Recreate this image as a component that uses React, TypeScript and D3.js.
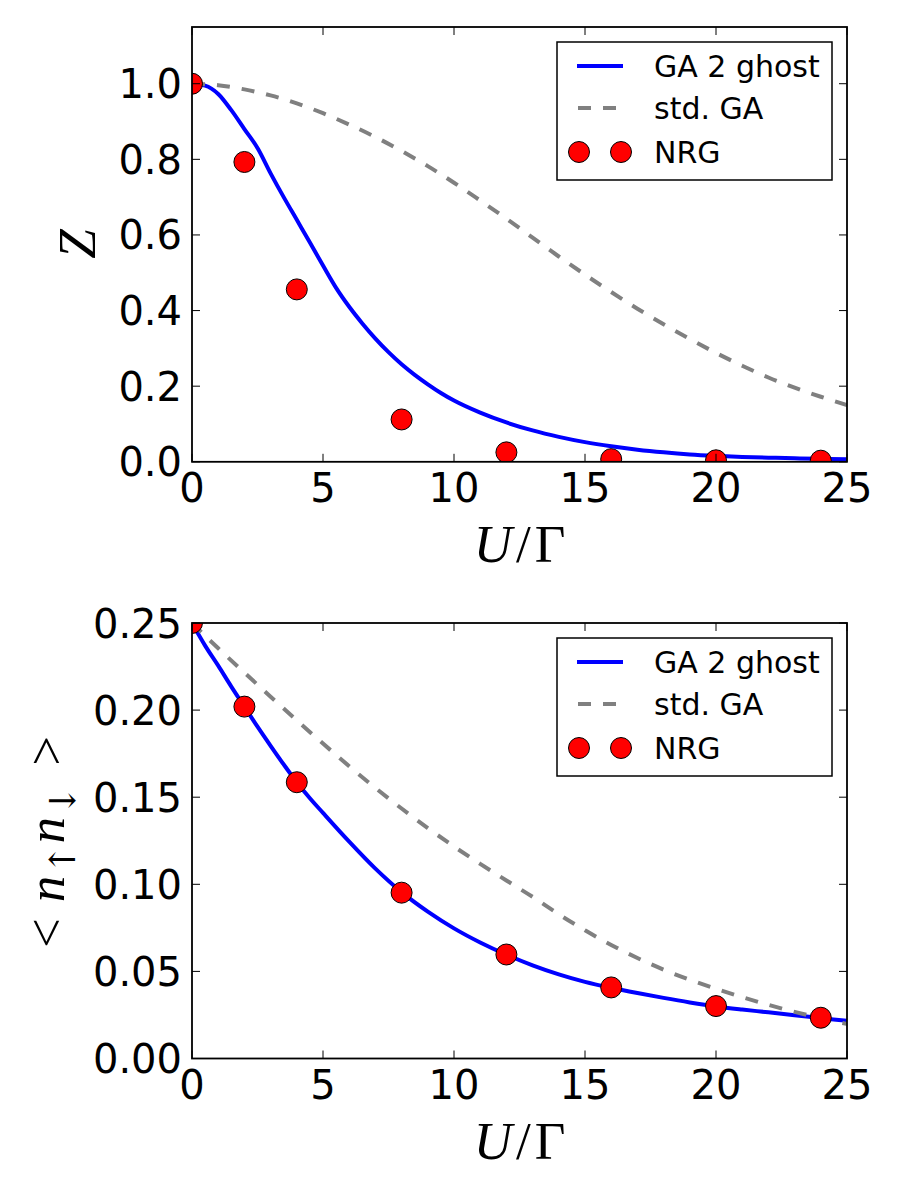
import React from 'react';
import * as d3 from 'd3';

// ---------- DATA ----------
const xTicks = [0, 5, 10, 15, 20, 25];
const zTicks = [0, 0.2, 0.4, 0.6, 0.8, 1.0];
const zTickLabels = ['0.0', '0.2', '0.4', '0.6', '0.8', '1.0'];
const dTicks = [0, 0.05, 0.1, 0.15, 0.2, 0.25];
const dTickLabels = ['0.00', '0.05', '0.10', '0.15', '0.20', '0.25'];

const legendLabels = ['GA 2 ghost', 'std. GA', 'NRG'];

// Top panel: Z
const zGa2U = [0, 0.5, 1, 1.5, 2, 2.5, 3, 3.5, 4, 4.5, 5, 5.5, 6, 6.5, 7, 7.5, 8, 8.5, 9, 9.5, 10, 11, 12, 13, 14, 15, 16, 17, 18, 19, 20, 21, 22, 23, 24, 25];
const zGa2 = [1.0, 0.995, 0.973, 0.93, 0.88, 0.83, 0.763, 0.7, 0.64, 0.58, 0.519, 0.46, 0.41, 0.366, 0.326, 0.29, 0.258, 0.23, 0.205, 0.182, 0.162, 0.13, 0.104, 0.083, 0.066, 0.052, 0.041, 0.032, 0.025, 0.0195, 0.0158, 0.013, 0.011, 0.0093, 0.008, 0.007];
const zGaU = [0, 1, 2, 3, 4, 5, 6, 7, 8, 9, 10, 11, 12, 13, 14, 15, 16, 17, 18, 19, 20, 21, 22, 23, 24, 25];
const zGa = [1.0, 0.996, 0.985, 0.969, 0.948, 0.922, 0.892, 0.859, 0.822, 0.782, 0.738, 0.691, 0.643, 0.593, 0.543, 0.495, 0.449, 0.405, 0.364, 0.325, 0.288, 0.254, 0.223, 0.196, 0.172, 0.15];

// NRG points
const nrgU = [0, 2, 4, 8, 12, 16, 20, 24];
const nrgZ = [1.0, 0.793, 0.456, 0.112, 0.025, 0.007, 0.004, 0.003];
const nrgD = [0.25, 0.202, 0.1586, 0.0952, 0.0597, 0.0408, 0.0301, 0.0234];

// Bottom panel: <n_up n_down>
const dGa2U = [0, 0.5, 1, 1.5, 2, 2.5, 3, 3.5, 4, 4.5, 5, 6, 7, 8, 9, 10, 11, 12, 13, 14, 15, 16, 17, 18, 19, 20, 21, 22, 23, 24, 25];
const dGa2 = [0.25, 0.237, 0.2255, 0.2135, 0.202, 0.1905, 0.1795, 0.1688, 0.1586, 0.1494, 0.141, 0.1245, 0.109, 0.0955, 0.0843, 0.0747, 0.0666, 0.0596, 0.0535, 0.0483, 0.044, 0.0406, 0.0376, 0.0348, 0.0322, 0.0299, 0.0281, 0.0265, 0.0248, 0.0232, 0.0216];
const dGaU = [0, 1, 2, 3, 4, 5, 6, 7, 8, 9, 10, 11, 12, 13, 14, 15, 16, 17, 18, 19, 20, 21, 22, 23, 24, 25];
const dGa = [0.25, 0.2355, 0.2215, 0.2077, 0.1941, 0.1808, 0.1678, 0.1553, 0.1435, 0.1323, 0.1217, 0.1117, 0.1022, 0.0928, 0.0828, 0.0736, 0.0652, 0.0577, 0.051, 0.0452, 0.04, 0.0352, 0.0308, 0.0268, 0.0232, 0.0198];

// ---------- LAYOUT ----------
const X0 = 192;
const X1 = 847;
const TICK_FONT = 'DejaVu Sans, sans-serif';
const MATH_FONT = 'Liberation Serif, DejaVu Serif, serif';

type PanelProps = {
  id: string;
  top: number;
  bottom: number;
  yMax: number;
  yTicks: number[];
  yTickLabels: string[];
  ga2U: number[];
  ga2: number[];
  gaU: number[];
  ga: number[];
  nrg: number[];
  yLabel: React.ReactNode;
};

function Panel(p: PanelProps) {
  const x = d3.scaleLinear().domain([0, 25]).range([X0, X1]);
  const y = d3.scaleLinear().domain([0, p.yMax]).range([p.bottom, p.top]);
  const line = d3
    .line<[number, number]>()
    .x((d) => x(d[0]))
    .y((d) => y(d[1]))
    .curve(d3.curveMonotoneX);
  const ga2Pts = p.ga2U.map((u, i) => [u, p.ga2[i]] as [number, number]);
  const gaPts = p.gaU.map((u, i) => [u, p.ga[i]] as [number, number]);
  const tickLen = 8;
  const lgTop = p.top + 15;
  const lgX0 = 557;
  const lgX1 = 832;
  const rows = [lgTop + 24, lgTop + 66, lgTop + 110];
  return (
    <g>
      <defs>
        <clipPath id={p.id}>
          <rect x={X0} y={p.top} width={X1 - X0} height={p.bottom - p.top} />
        </clipPath>
      </defs>
      <g clipPath={`url(#${p.id})`}>
        <path d={line(ga2Pts) || ''} fill="none" stroke="#0000ff" strokeWidth={4} />
        <path d={line(gaPts) || ''} fill="none" stroke="#808080" strokeWidth={4} strokeDasharray="13,12" />
        {nrgU.map((u, i) => (
          <circle key={i} cx={x(u)} cy={y(p.nrg[i])} r={10.5} fill="#ff0000" stroke="#000" strokeWidth={1} />
        ))}
      </g>
      {/* ticks */}
      {xTicks.map((t) => (
        <g key={'xt' + t}>
          <line x1={x(t)} x2={x(t)} y1={p.bottom} y2={p.bottom - tickLen} stroke="#000" strokeWidth={1} />
          <line x1={x(t)} x2={x(t)} y1={p.top} y2={p.top + tickLen} stroke="#000" strokeWidth={1} />
          <text x={x(t)} y={p.bottom + 40} textAnchor="middle" fontFamily={TICK_FONT} fontSize={40} fill="#000">
            {t}
          </text>
        </g>
      ))}
      {p.yTicks.map((t, i) => (
        <g key={'yt' + t}>
          <line x1={X0} x2={X0 + tickLen} y1={y(t)} y2={y(t)} stroke="#000" strokeWidth={1} />
          <line x1={X1} x2={X1 - tickLen} y1={y(t)} y2={y(t)} stroke="#000" strokeWidth={1} />
          <text x={X0 - 10} y={y(t) + 14.5} textAnchor="end" fontFamily={TICK_FONT} fontSize={40} fill="#000">
            {p.yTickLabels[i]}
          </text>
        </g>
      ))}
      <rect x={X0} y={p.top} width={X1 - X0} height={p.bottom - p.top} fill="none" stroke="#000" strokeWidth={1.8} />
      {/* legend */}
      <rect x={lgX0} y={lgTop} width={lgX1 - lgX0} height={138} fill="#fff" stroke="#000" strokeWidth={1.5} />
      <line x1={577} x2={623} y1={rows[0]} y2={rows[0]} stroke="#0000ff" strokeWidth={4} />
      <line x1={578} x2={623} y1={rows[1]} y2={rows[1]} stroke="#808080" strokeWidth={4} strokeDasharray="13,12" />
      <circle cx={579} cy={rows[2]} r={10.5} fill="#ff0000" stroke="#000" strokeWidth={1} />
      <circle cx={621} cy={rows[2]} r={10.5} fill="#ff0000" stroke="#000" strokeWidth={1} />
      {legendLabels.map((l, i) => (
        <text key={l} x={654} y={rows[i] + 11} fontFamily={TICK_FONT} fontSize={30} fill="#000">
          {l}
        </text>
      ))}
      {/* x label */}
      <text x={(X0 + X1) / 2} y={p.bottom + 100} textAnchor="middle" fontFamily={MATH_FONT} fontSize={53} fill="#000">
        <tspan fontStyle="italic">U</tspan>
        <tspan dx={4}>/</tspan>
        <tspan dx={4}>Γ</tspan>
      </text>
      {p.yLabel}
    </g>
  );
}

export default function App() {
  return (
    <svg width={900} height={1200} style={{ position: 'absolute', left: 0, top: 0, background: '#fff' }}>
      <rect x={0} y={0} width={900} height={1200} fill="#fff" />
      <Panel
        id="clipTop"
        top={27}
        bottom={461.8}
        yMax={1.15}
        yTicks={zTicks}
        yTickLabels={zTickLabels}
        ga2U={zGa2U}
        ga2={zGa2}
        gaU={zGaU}
        ga={zGa}
        nrg={nrgZ}
        yLabel={
          <text transform="translate(95,244) rotate(-90)" textAnchor="middle" fontFamily={MATH_FONT} fontSize={53} fontStyle="italic" fill="#000">
            Z
          </text>
        }
      />
      <Panel
        id="clipBottom"
        top={623}
        bottom={1058.5}
        yMax={0.25}
        yTicks={dTicks}
        yTickLabels={dTickLabels}
        ga2U={dGa2U}
        ga2={dGa2}
        gaU={dGaU}
        ga={dGa}
        nrg={nrgD}
        yLabel={
          <text transform="translate(64,842) rotate(-90)" textAnchor="middle" fontFamily={MATH_FONT} fontSize={53} fill="#000">
            <tspan>{'<'}</tspan>
            <tspan fontStyle="italic" dx={16}>n</tspan>
            <tspan fontFamily="DejaVu Serif, serif" fontSize={36} dy={11} dx={1}>↑</tspan>
            <tspan fontStyle="italic" dy={-11} dx={1}>n</tspan>
            <tspan fontFamily="DejaVu Serif, serif" fontSize={36} dy={11} dx={1}>↓</tspan>
            <tspan dy={-11} dx={20}>{'>'}</tspan>
          </text>
        }
      />
    </svg>
  );
}
